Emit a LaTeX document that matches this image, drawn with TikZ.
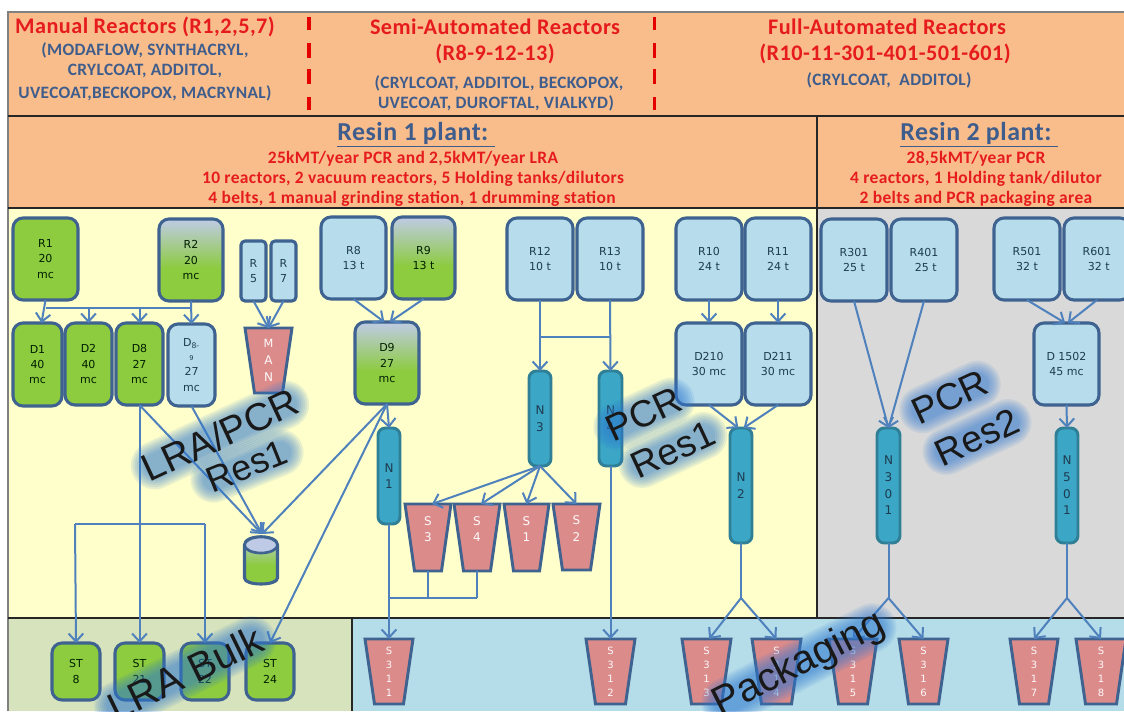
\documentclass[tikz,border=0pt]{standalone}
\usepackage{fontspec}
\usetikzlibrary{arrows.meta,calc}
\setmainfont{DejaVu Sans}
\newfontfamily\hdf{Carlito}[LetterSpace=2]
\newfontfamily\ovf{Liberation Sans}
\definecolor{orangeb}{HTML}{F9BD8B}
\definecolor{yellowb}{HTML}{FFFFCB}
\definecolor{grayb}{HTML}{D9D9D9}
\definecolor{greenb}{HTML}{D7E3BC}
\definecolor{blueb}{HTML}{B5DCE9}
\definecolor{bord}{HTML}{3F6390}
\definecolor{conc}{HTML}{4F81BD}
\definecolor{grn}{HTML}{8DCB3F}
\definecolor{lav}{HTML}{BFCBE6}
\definecolor{lblue}{HTML}{B7DDEC}
\definecolor{pink}{HTML}{DC8B8B}
\definecolor{teal}{HTML}{3BA6C5}
\definecolor{tealb}{HTML}{2F7F97}
\definecolor{redt}{HTML}{E61B1E}
\definecolor{navyt}{HTML}{3F5D8C}
\definecolor{darkt}{HTML}{1E3B50}
\definecolor{glowc}{HTML}{2E78D2}
\pgfdeclareverticalshading{lavgreen}{100bp}{color(0bp)=(grn); color(45bp)=(grn); color(75bp)=(lav); color(100bp)=(lav)}
\newcommand\bxt{\fontsize{8.25pt}{11.5pt}\selectfont}
\newcommand\tzt{\fontsize{9pt}{12.5pt}\selectfont}
\newcommand\tzs{\fontsize{7.5pt}{10.5pt}\selectfont}
\newcommand\nnt{\fontsize{9pt}{12.5pt}\selectfont}
\newcommand\bx[7]{\node[#6,minimum width={(#4-#2)*.75pt},minimum height={(#5-#3)*.75pt}] (#1) at ({(#2+#4)/2},{(#3+#5)/2}) {#7};}
% tapered hopper: polygon plus a named text node spanning it
\newcommand\tz[7]{%
  \draw[hopper] (#2,#4) -- (#3,#4) -- ({#3-9.5},#5) -- ({#2+9.5},#5) -- cycle;
  \node[#7,minimum width={(#3-#2)*.75pt},minimum height={(#5-#4)*.75pt}] (#1) at ({(#2+#3)/2},{(#4+#5)/2}) {#6};}
\newcommand\ovl[7]{%
  \begin{scope}[shift={(#2,#3)},rotate=#4]
    \foreach \w in {0,4,8,12,16,20,24}{\draw[line width=\w*.75pt+#5*.62pt,draw=glowc,opacity=.11,line cap=round] (-#6,0) -- (#6,0);}
    \node[overlay label,rotate=#4,font=\ovf\fontsize{#5pt}{#5pt}\selectfont] (#1) at (0,0) {#7};
  \end{scope}}
\tikzset{
  rule/.style={draw=black!85,line width=1.7pt},
  reddash/.style={draw=red!90!black,line width=2.8pt},
  boxb/.style={draw=bord,line width=2.3pt,rounded corners=7.5pt,inner sep=0pt,outer sep=0pt,align=center,font=\bxt,text=darkt},
  lb/.style={boxb,fill=lblue},
  gb/.style={boxb,fill=grn,text=black!75!green!50!black},
  mb/.style={boxb,shade,shading=lavgreen,text=black!75!green!50!black},
  slim/.style={lb,rounded corners=3pt},
  beltb/.style={draw=tealb,line width=2.2pt,fill=teal,rounded corners=5.5pt,inner sep=0pt,outer sep=0pt,align=center,font=\nnt,text=darkt},
  hopper/.style={draw=bord,line width=2.2pt,fill=pink},
  trap/.style={rectangle,inner sep=0pt,outer sep=0pt,align=center,text=white!95!pink},
  silo/.style={trap,font=\tzt},
  bag/.style={trap,font=\tzs},
  conn/.style={draw=conc,line width=1.5pt},
  arr/.style={conn,-{Straight Barb[length=6pt,width=11pt]}},
  headr/.style={font=\hdf\bfseries\fontsize{16.7pt}{18pt}\selectfont,text=redt,inner sep=0pt},
  heads/.style={font=\hdf\bfseries\fontsize{13pt}{15pt}\selectfont,text=navyt,inner sep=0pt},
  plantt/.style={font=\hdf\bfseries\fontsize{19.4pt}{21pt}\selectfont,text=navyt,inner sep=0pt},
  plants/.style={font=\hdf\bfseries\fontsize{13.1pt}{15pt}\selectfont,text=redt,inner sep=0pt},
  overlay label/.style={text=black!90,inner sep=0pt},
}
\begin{document}
\begin{tikzpicture}[x=.75pt,y=-.75pt]
\useasboundingbox (0,0) rectangle (1124,711);
\clip (0,0) rectangle (1124,711);
\fill[white] (0,0) rectangle (1124,711);
% panels
\fill[orangeb] (8,12) rectangle (1124,208);
\fill[yellowb] (8,208) rectangle (817,618);
\fill[grayb] (817,208) rectangle (1124,618);
\fill[greenb] (8,618) rectangle (352,711);
\fill[blueb] (352,618) rectangle (1124,711);
\draw[draw=black!50,line width=.9pt] (1124,12) -- (8,12) -- (8,711);
\draw[rule] (8,116) -- (1124,116);
\draw[rule] (8,208) -- (1124,208);
\draw[rule] (8,618) -- (1124,618);
\draw[rule] (817,116) -- (817,618);
\draw[rule] (352,618) -- (352,711);
\foreach \xx in {309,654.5}{
  \draw[reddash] (\xx,17) -- (\xx,30);
  \draw[reddash] (\xx,43) -- (\xx,58);
  \draw[reddash] (\xx,69) -- (\xx,84);
  \draw[reddash] (\xx,97) -- (\xx,110);
}
% header text
\node[headr] (h1) at (145,27) {Manual Reactors (R1,2,5,7)};
\node[heads] (h1a) at (145,50) {(MODAFLOW, SYNTHACRYL,};
\node[heads] (h1b) at (145,71) {CRYLCOAT, ADDITOL,};
\node[heads] (h1c) at (145,93) {UVECOAT,BECKOPOX, MACRYNAL)};
\node[headr] (h2) at (495,27) {Semi-Automated Reactors};
\node[headr] (h2r) at (495,54) {(R8-9-12-13)};
\node[heads] (h2a) at (499,83) {(CRYLCOAT, ADDITOL, BECKOPOX,};
\node[heads] (h2b) at (496,103) {UVECOAT, DUROFTAL, VIALKYD)};
\node[headr] (h3) at (887,27) {Full-Automated Reactors};
\node[headr] (h3r) at (885,54) {(R10-11-301-401-501-601)};
\node[heads] (h3a) at (889,80) {(CRYLCOAT,\ \ ADDITOL)};
\node[plantt] (p1) at (416,135) {\underline{Resin 1 plant:\ }};
\node[plants] (p1a) at (413,159) {25kMT/year PCR and 2,5kMT/year LRA};
\node[plants] (p1b) at (413,179) {10 reactors, 2 vacuum reactors, 5 Holding tanks/dilutors};
\node[plants] (p1c) at (412,199) {4 belts, 1 manual grinding station, 1 drumming station};
\node[plantt] (p2) at (979,135) {\underline{Resin 2 plant:\ }};
\node[plants] (p2a) at (976,159) {28,5kMT/year PCR};
\node[plants] (p2b) at (976,179) {4 reactors, 1 Holding tank/dilutor};
\node[plants] (p2c) at (976,199) {2 belts and PCR packaging area};
% reactors
\bx{R1}{13}{218}{78}{300}{gb}{R1\\20\\mc}
\bx{R2}{159}{219}{223}{301}{mb}{R2\\20\\mc}
\bx{R5}{241}{241}{266}{301}{slim}{R\\5}
\bx{R7}{271}{241}{296}{301}{slim}{R\\7}
\bx{R8}{321}{217}{386}{299}{lb}{R8\\13 t}
\bx{R9}{392}{217}{455}{299}{mb}{R9\\13 t}
\bx{R12}{507}{218}{573}{300}{lb}{R12\\10 t}
\bx{R13}{577}{218}{643}{300}{lb}{R13\\10 t}
\bx{R10}{676}{218}{742}{300}{lb}{R10\\24 t}
\bx{R11}{745}{218}{811}{300}{lb}{R11\\24 t}
\bx{R301}{821}{219}{887}{301}{lb}{R301\\25 t}
\bx{R401}{891}{219}{957}{301}{lb}{R401\\\ 25 t}
\bx{R501}{994}{218}{1060}{300}{lb}{R501\\32 t}
\bx{R601}{1064}{218}{1130}{300}{lb}{R601\\\ 32 t}
% dilutors
\bx{D1}{13}{323}{62}{406}{gb}{D1\\40\\mc}
\bx{D2}{65}{323}{112}{405}{gb}{D2\\40\\mc}
\bx{D8}{116}{323}{163}{405}{gb}{D8\\27\\mc}
\bx{D89}{168}{324}{215}{406}{lb}{D\textsubscript{8-}\\[-1pt]{\fontsize{5pt}{6pt}\selectfont 9}\\27\\mc}
\bx{D9}{355}{322}{419}{404}{mb}{D9\\27\\mc}
\bx{D210}{676}{323}{742}{405}{lb}{D210\\30 mc}
\bx{D211}{745}{323}{811}{405}{lb}{D211\\30 mc}
\bx{D1502}{1034}{323}{1099}{405}{lb}{D 1502\\45 mc}
% belts
\bx{N1}{378}{428}{400}{524}{beltb}{N\\1}
\bx{N3}{529}{371}{551}{466}{beltb}{N\\3}
\bx{N4}{599}{371}{622}{466}{beltb}{N\\4}
\bx{N2}{730}{428}{752}{543}{beltb}{N\\2}
\bx{N301}{877}{428}{900}{543}{beltb}{N\\3\\0\\1}
\bx{N501}{1056}{428}{1078}{543}{beltb}{N\\5\\0\\1}
% silos
\tz{MAN}{245}{292}{328}{393}{\fontsize{8.5pt}{11.5pt}\selectfont M\\A\\N}{silo}
\tz{S3}{405}{451}{504}{571}{S\\3\\\mbox{}}{silo}
\tz{S4}{454}{500}{504}{571}{S\\4\\\mbox{}}{silo}
\tz{S1}{504}{549}{504}{571}{S\\1\\\mbox{}}{silo}
\tz{S2}{553}{600}{504}{570}{S\\2\\\mbox{}}{silo}
% drum
\path[draw=bord,line width=2.3pt,shade,shading=lavgreen] (244.5,545) -- (244.5,578) .. controls (244.5,586) and (277.5,586) .. (277.5,578) -- (277.5,545) .. controls (277.5,534) and (244.5,534) .. cycle;
\draw[draw=bord,line width=2pt,fill=lav] (261,545) ellipse [x radius=16.5,y radius=8];
% bulk storage
\bx{ST8}{52}{643}{100}{700}{gb}{ST\\8}
\bx{ST21}{115}{643}{164}{700}{gb}{ST\\21}
\bx{ST22}{181}{643}{229}{700}{gb}{ST\\22}
\bx{ST24}{246}{643}{294}{700}{gb}{ST\\24}
% packaging
\tz{S311}{365}{413}{639}{704}{S\\3\\1\\1}{bag}
\tz{S312}{586}{635}{639}{704}{S\\3\\1\\2}{bag}
\tz{S313}{682}{731}{639}{704}{S\\3\\1\\3}{bag}
\tz{S314}{752}{801}{639}{704}{S\\3\\1\\4}{bag}
\tz{S315}{829}{877}{639}{704}{S\\3\\1\\5}{bag}
\tz{S316}{899}{948}{639}{704}{S\\3\\1\\6}{bag}
\tz{S317}{1010}{1058}{639}{704}{S\\3\\1\\7}{bag}
\tz{S318}{1076}{1126}{639}{704}{S\\3\\1\\8}{bag}
% free connector points
\coordinate (busA) at (45.5,308);
\coordinate (busB) at (191,308);
\coordinate (cylT) at (262,534);
\coordinate (stL) at (75,524);
\coordinate (stR) at (205,524);
\coordinate (crY) at (540,337);
\coordinate (jn) at (389,598);
\coordinate (yN2) at (741,598);
\coordinate (yN3) at (888.5,598);
\coordinate (yN5) at (1067,598);
% connectors
\draw[arr] (R1.south) -- ([xshift=3pt]D1.north);
\draw[conn] (busA) -- (busB);
\draw[arr] (R2.south) -- (D89.north);
\draw[arr] (D2.north |- busA) -- (D2.north);
\draw[arr] (D8.north |- busA) -- (D8.north);
\draw[arr] (R5.south) -- (MAN.north);
\draw[arr] (R7.south) -- (MAN.north);
\draw[arr] (R8.south) -- ([xshift=-2pt]D9.north);
\draw[arr] (R9.south) -- ([xshift=2pt]D9.north);
\draw[arr] (D9.south) -- (N1.north);
\draw[arr] (D9.south) -- (cylT);
\draw[arr] (D9.south) -- (ST24.north);
\draw[arr] (D8.south) -- (cylT);
\draw[arr] (D89.south) -- (cylT);
\draw[arr] (D8.south) -- (ST21.north);
\draw[conn] (stL) -- (stR);
\draw[arr] (stL) -- (ST8.north);
\draw[arr] (stR) -- (ST22.north);
\draw[arr] (R12.south) -- (N3.north);
\draw[arr] (R13.south) -- (N4.north);
\draw[conn] (R12.south |- crY) -- ([xshift=1pt]R13.south |- crY);
\draw[arr] (N3.south) -- ([xshift=3pt]S3.north);
\draw[arr] (N3.south) -- ([xshift=3pt]S4.north);
\draw[arr] (N3.south) -- (S1.north);
\draw[arr] (N3.south) -- (S2.north);
\draw[arr] (N4.south) -- (S312.north);
\draw[arr] (N1.south) -- (S311.north);
\draw[conn] (S3.south) -- (S3.south |- jn);
\draw[conn] (S4.south) -- (S4.south |- jn);
\draw[conn] (jn) -- (S4.south |- jn);
\draw[arr] (R10.south) -- (D210.north);
\draw[arr] (R11.south) -- (D211.north);
\draw[arr] (D210.south) -- ([xshift=-2pt]N2.north);
\draw[arr] (D211.south) -- ([xshift=2pt]N2.north);
\draw[conn] (N2.south) -- (yN2);
\draw[arr] (yN2) -- ([xshift=2pt]S313.north);
\draw[arr] (yN2) -- (S314.north);
\draw[arr] (R301.south) -- (N301.north);
\draw[arr] (R401.south) -- (N301.north);
\draw[conn] (N301.south) -- (yN3);
\draw[arr] (yN3) -- (S315.north);
\draw[arr] (yN3) -- (S316.north);
\draw[arr] (R501.south) -- ([xshift=-1pt]D1502.north);
\draw[arr] (R601.south) -- ([xshift=1pt]D1502.north);
\draw[arr] (D1502.south) -- (N501.north);
\draw[conn] (N501.south) -- (yN5);
\draw[arr] (yN5) -- (S317.north);
\draw[arr] (yN5) -- (S318.north);
% overlay labels
\ovl{tLRA}{220}{435}{25}{29}{72}{LRA/PCR}
\ovl{tRes1a}{247}{466}{22}{27}{36}{Res1}
\ovl{tPCRa}{644}{414}{25}{28}{30}{PCR}
\ovl{tRes1b}{673}{450}{25}{28}{34}{Res1}
\ovl{tPCRb}{950}{397}{25}{28}{30}{PCR}
\ovl{tRes2}{977}{437}{25}{28}{34}{Res2}
\ovl{tBulk}{185}{673}{26}{30}{74}{LRA Bulk}
\ovl{tPack}{799}{665}{27}{30}{82}{Packaging}
\end{tikzpicture}
\end{document}
